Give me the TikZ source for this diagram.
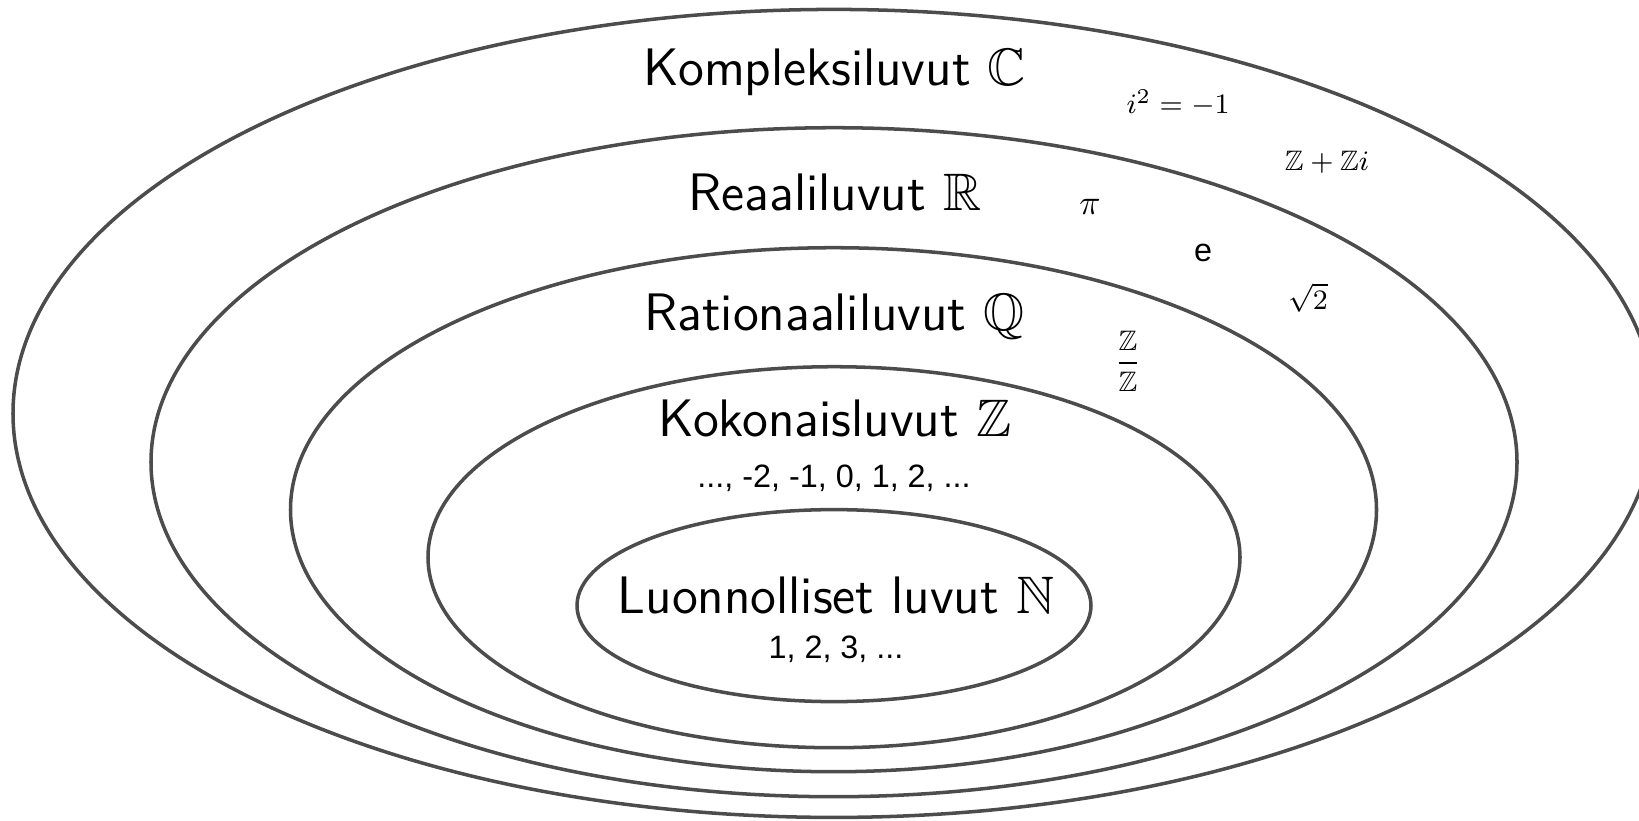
\documentclass[tikz,border=0pt]{standalone}
\usepackage{amsmath,amssymb}
\usepackage{fontspec}
\newfontfamily\arialfont{Liberation Sans}
\usepackage{tikz}

\begin{document}
\begin{tikzpicture}[
    x=0.01cm, y=-0.01cm,
    set/.style={draw=black!70, line width=1pt},
    title/.style={font=\sffamily\fontsize{15}{18}\selectfont, anchor=base, inner sep=0pt},
    nums/.style={font=\arialfont\fontsize{9.2}{11}\selectfont, anchor=base, inner sep=0pt},
    elem/.style={font=\fontsize{8}{10}\selectfont, anchor=base, inner sep=0pt}
]
\useasboundingbox (0,0) rectangle (1639,820);

% nested sets
\draw[set] (834,413.4) ellipse [x radius=821, y radius=404];
\draw[set] (834,462.2) ellipse [x radius=683, y radius=334.5];
\draw[set] (833.5,509.7) ellipse [x radius=543, y radius=262];
\draw[set] (834,557.2) ellipse [x radius=406, y radius=190.5];
\draw[set] (834,605.6) ellipse [x radius=257, y radius=96];

% set names
\node[title] (kompl) at (835,85) {Kompleksiluvut $\mathbb{C}$};
\node[title] (reaal) at (835,210) {Reaaliluvut $\mathbb{R}$};
\node[title] (ratio) at (834.5,330) {Rationaaliluvut $\mathbb{Q}$};
\node[title] (kokon) at (835,436) {Kokonaisluvut $\mathbb{Z}$};
\node[nums] (kokonEx) at (834,487) {..., -2, -1, 0, 1, 2, ...};
\node[title] (luonn) at (836,613) {Luonnolliset luvut $\mathbb{N}$};
\node[nums] (luonnEx) at (836,658) {1, 2, 3, ...};

% examples
\node[elem] (isq) at (1178,113) {$i^2=-1$};
\node[elem] (gauss) at (1327,170) {$\mathbb{Z}+\mathbb{Z}i$};
\node[elem, font=\fontsize{10}{12}\selectfont] (pii) at (1090,214) {$\pi$};
\node[nums] (neper) at (1203,261) {e};
\node[elem] (sqrtkaksi) at (1308,309) {$\sqrt{2}$};
\node[elem] (murto) at (1128,370) {$\dfrac{\mathbb{Z}}{\mathbb{Z}}$};

\end{tikzpicture}
\end{document}
